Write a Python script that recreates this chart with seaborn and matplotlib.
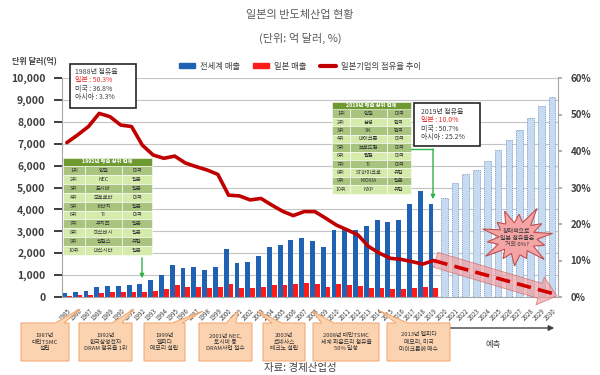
import numpy as np
import pandas as pd
import seaborn as sns
import matplotlib.pyplot as plt
from matplotlib.patches import Rectangle, Polygon, Patch
from matplotlib.lines import Line2D
from matplotlib.ticker import StrMethodFormatter, FuncFormatter

# ---- data ----
years = [str(y) for y in range(1985, 2031)]
actual_years = years[:35]      # 1985-2019
forecast_years = years[35:]    # 2020-2030 (예측)

world_sales = [200, 220, 280, 450, 500, 500, 550, 600, 770, 1000,
               1440, 1320, 1370, 1250, 1350, 2200, 1550, 1620, 1850, 2300,
               2380, 2620, 2710, 2560, 2290, 3080, 3120, 3040, 3240, 3500,
               3430, 3500, 4250, 4820, 4250]
japan_sales = [60, 75, 110, 200, 215, 215, 230, 230, 275, 365,
               530, 460, 470, 425, 440, 605, 425, 410, 470, 560,
               535, 580, 625, 595, 475, 580, 535, 490, 410, 430,
               350, 350, 400, 445, 410]
forecast_sales = [4530, 5190, 5600, 5800, 6190, 6720, 7180, 7640, 8160, 8700, 9130]

japan_share = [42.3, 44.4, 46.7, 50.3, 49.4, 47.1, 46.7, 41.6, 38.9, 38.0,
               38.6, 36.7, 35.7, 34.8, 33.6, 27.9, 27.7, 26.6, 27.0, 25.2,
               23.5, 22.3, 23.4, 23.4, 21.6, 19.7, 18.4, 17.0, 13.8, 12.0,
               10.6, 10.3, 9.7, 9.0, 10.0]
trend_years = ["2019", "2030"]
trend_share = [10.0, 1.0]

series_names = ["전세계 매출", "일본 매출", "일본기업의 점유율 추이"]

table_1992 = [("1위", "인텔", "미국"), ("2위", "NEC", "일본"), ("3위", "도시바", "일본"),
              ("4위", "모토로라", "미국"), ("5위", "히타치", "일본"), ("6위", "TI", "미국"),
              ("7위", "후지쯔", "일본"), ("8위", "미쓰비시", "일본"), ("9위", "필립스", "유럽"),
              ("10위", "마쓰시타", "일본")]
table_2019 = [("1위", "인텔", "미국"), ("2위", "삼성", "한국"), ("3위", "SK", "한국"),
              ("4위", "마이크론", "미국"), ("5위", "브로드컴", "미국"), ("6위", "퀄컴", "미국"),
              ("7위", "TI", "미국"), ("8위", "ST마이크로", "유럽"), ("9위", "KIOXIA", "일본"),
              ("10위", "NXP", "유럽")]

events = ["1987년\n대만TSMC\n설립",
          "1992년\n한국삼성전자\nDRAM 점유율 1위",
          "1999년\n엘피다\n메모리 설립",
          "2001년 NEC,\n토시바 등\nDRAM사업 철수",
          "2003년\n르네사스\n테크노 설립",
          "2008년 대만TSMC\n세계 파운드리 점유율\n50% 달성",
          "2013년 엘피다\n메모리, 미국\n마이크론에 매수"]

BLUE = "#1f62b4"
RED = "#ff1a1a"
DARKRED = "#c00000"
GRAY = "#404040"

sns.set_theme(style="white")
plt.rcParams['font.family'] = ['Noto Sans CJK KR', 'DejaVu Sans']

W, H = 600, 375
fig = plt.figure(figsize=(6, 3.75), dpi=100)


def fx(x):
    return x / W


def fy(y):
    return 1 - y / H


ax = fig.add_axes([fx(62), fy(297), 496 / W, 219 / H])

# bars
df = pd.DataFrame({
    "year": actual_years * 2,
    "sales": world_sales + japan_sales,
    "series": [series_names[0]] * 35 + [series_names[1]] * 35,
})
sns.barplot(data=df, x="year", y="sales", hue="series", order=years,
            hue_order=series_names[:2], palette=[BLUE, RED], saturation=1,
            width=0.9, edgecolor="none", linewidth=0, legend=False, ax=ax)
sns.barplot(x=forecast_years, y=forecast_sales, order=years, color="#c6daf1",
            saturation=1, width=0.62, edgecolor="#7d9cc6", linewidth=0.6,
            linestyle=(0, (1.5, 1)), ax=ax)

ax.set_ylim(0, 10000)
ax.set_yticks(range(0, 10001, 1000))
ax.yaxis.set_major_formatter(StrMethodFormatter("{x:,.0f}"))
ax.yaxis.grid(True, color="#c4c4c4", lw=0.8)
ax.set_axisbelow(True)
ax.set_xlabel("")
ax.set_ylabel("")
ax.tick_params(axis="y", labelsize=7.5, labelcolor=GRAY, pad=6)
for t in ax.get_yticklabels():
    t.set_fontweight("bold")
ax.tick_params(axis="x", labelsize=4.5, labelcolor=GRAY, labelrotation=45, pad=1)
for t in ax.get_xticklabels():
    t.set_ha("right")
    t.set_rotation_mode("anchor")
for s in ["top", "right"]:
    ax.spines[s].set_visible(False)
for s in ["left", "bottom"]:
    ax.spines[s].set_color("#a6a6a6")
    ax.spines[s].set_linewidth(0.8)

# share line on right axis
ax2 = ax.twinx()
sns.pointplot(x=actual_years, y=japan_share, order=years, color=DARKRED,
              markers="", linewidth=2.6, errorbar=None, ax=ax2)

# pink projection arrow + dashed trend (2019 -> 2030)
trend_pos = [years.index(y) for y in trend_years]
ax2.annotate("", xy=(trend_pos[1] + 0.45, trend_share[1] - 0.7), xytext=(trend_pos[0] + 0.2, trend_share[0] + 0.2),
             arrowprops=dict(arrowstyle="simple,head_length=0.9,head_width=1.5,tail_width=0.8",
                             fc="#f29a9a", ec="#d25a5a", alpha=0.65, lw=0.6,
                             mutation_scale=14, shrinkA=0, shrinkB=0),
             annotation_clip=False, zorder=1)
ax2.plot(trend_pos, trend_share, color="#d40000", lw=2.6, dashes=[4, 2], zorder=4)

ax2.set_ylim(0, 60)
ax2.set_yticks(range(0, 61, 10))
ax2.yaxis.set_major_formatter(FuncFormatter(lambda v, p: f"{v:.0f}%"))
ax2.tick_params(axis="y", right=True, length=3, color="#a6a6a6",
                labelsize=7, labelcolor=GRAY, pad=6)
for t in ax2.get_yticklabels():
    t.set_fontweight("bold")
ax2.set_ylabel("")
for s in ["top", "left", "bottom"]:
    ax2.spines[s].set_visible(False)
ax2.spines["right"].set_color("#a6a6a6")
ax2.spines["right"].set_linewidth(0.8)
ax2.grid(False)
ax.set_xlim(-0.45, 45.55)

# titles / labels
fig.text(0.5, fy(15), "일본의 반도체산업 현황", ha="center", va="center", fontsize=8, color="#595959")
fig.text(0.5, fy(38), "(단위: 억 달러, %)", ha="center", va="center", fontsize=8, color="#595959")
fig.text(fx(12), fy(62), "단위 달러(억)", ha="left", va="center", fontsize=5.8,
         fontweight="bold", color=GRAY)
fig.text(0.5, fy(368), "자료: 경제산업성", ha="center", va="center", fontsize=7.5, color=GRAY)

handles = [Patch(color=BLUE), Patch(color=RED), Line2D([], [], color=DARKRED, lw=3)]
fig.legend(handles, series_names, loc="center", bbox_to_anchor=(fx(300), fy(66)),
           ncol=3, frameon=False, fontsize=6, handlelength=1.9, handleheight=0.5,
           handletextpad=0.6, columnspacing=1.6, labelcolor=GRAY)


# info boxes
def info_box(x0, y0, x1, y1, lines, tx, ty, step):
    fig.patches.append(Rectangle((fx(x0), fy(y1)), fx(x1 - x0), (y1 - y0) / H,
                                 transform=fig.transFigure, fc="white", ec="#262626", lw=1.2))
    for i, ln in enumerate(lines):
        c = "#e83030" if ln.startswith("일본") else GRAY
        fig.text(fx(tx), fy(ty + i * step), ln, fontsize=5, color=c, va="center", ha="left")


info_box(70, 64, 136, 108, ["1988년 점유율", "일본 : 50.3%", "미국 : 36.8%", "아시아 : 3.3%"], 75, 72, 8.4)
info_box(414, 103, 480, 146, ["2019년 점유율", "일본 : 10.0%", "미국 : 50.7%", "아시아 : 25.2%"], 421, 112, 8.5)


# ranking tables
def rank_table(cols, y0, head_h, row_h, title, rows):
    fig.patches.append(Rectangle((fx(cols[0]), fy(y0 + head_h)), fx(cols[-1] - cols[0]), head_h / H,
                                 transform=fig.transFigure, fc="#6f9a32", ec="white", lw=0.4))
    fig.text(fx((cols[0] + cols[-1]) / 2), fy(y0 + head_h / 2), title, fontsize=3.8,
             color="white", ha="center", va="center", fontweight="bold")
    for r, row in enumerate(rows):
        top = y0 + head_h + r * row_h
        fc = "#a9c47f" if r % 2 == 0 else "#d5ebab"
        for c in range(3):
            fig.patches.append(Rectangle((fx(cols[c]), fy(top + row_h)), fx(cols[c + 1] - cols[c]),
                                         row_h / H, transform=fig.transFigure, fc=fc,
                                         ec="white", lw=0.4))
            fig.text(fx((cols[c] + cols[c + 1]) / 2), fy(top + row_h / 2), row[c], fontsize=3.8,
                     color="#333333", ha="center", va="center")


rank_table([63, 85, 122, 152], 158, 8, 8.9, "1992년 매출 상위 업체", table_1992)
rank_table([332, 350, 387, 411], 102, 7.5, 8.4, "2019년 매출 상위 업체", table_2019)

green = "#2db34a"
ax.annotate("", xy=(fx(142), fy(281)), xytext=(fx(142), fy(255)), xycoords="figure fraction",
            arrowprops=dict(arrowstyle="-|>", color=green, lw=1, mutation_scale=6),
            annotation_clip=False)
fig.lines.append(Line2D([fx(411), fx(433)], [fy(149), fy(149)], transform=fig.transFigure,
                        color=green, lw=1))
ax.annotate("", xy=(fx(433), fy(202)), xytext=(fx(433), fy(149)), xycoords="figure fraction",
            arrowprops=dict(arrowstyle="-|>", color=green, lw=1, mutation_scale=6, shrinkA=0),
            annotation_clip=False)

# starburst
n = 28
radii = [36, 18, 30, 20, 40, 19, 28, 18, 34, 20, 27, 19, 36, 18,
         30, 20, 38, 18, 28, 19, 33, 20, 26, 18, 37, 19, 29, 20]
ang = np.linspace(0, 2 * np.pi, n, endpoint=False) + 0.15
cx, cy = 517, 238
pts = [(fx(cx + r * np.cos(a)), fy(cy - 0.85 * r * np.sin(a))) for r, a in zip(radii, ang)]
fig.patches.append(Polygon(pts, closed=True, transform=fig.transFigure,
                           fc="#f4a4a4", ec="#c0504d", lw=0.8))
fig.text(fx(cx), fy(cy), "장래적으로\n일본 점유율은\n거의 0%?", fontsize=4.3, color="#333333",
         ha="center", va="center", linespacing=1.3)

# 예측 arrow
ax.annotate("", xy=(fx(557), fy(328)), xytext=(fx(440), fy(328)), xycoords="figure fraction",
            arrowprops=dict(arrowstyle="-|>", color=GRAY, lw=1, mutation_scale=8),
            annotation_clip=False)
fig.text(fx(493), fy(344), "예측", fontsize=6, color=GRAY, ha="center", va="center")

# event call-outs
boxes = [(21, 69, 55, 64, 80, 309), (79, 132, 112, 122, 134, 309), (144, 185, 172, 182, 203, 311),
         (199, 252, 226, 236, 238, 311), (263, 305, 272, 282, 257, 311),
         (313, 379, 322, 334, 312, 311), (387, 450, 396, 408, 380, 311)]
for (x0, x1, ta, tb, tipx, tipy), label in zip(boxes, events):
    y0, y1 = 323, 361
    poly = [(x0, y0), (ta, y0), (tipx, tipy), (tb, y0), (x1, y0), (x1, y1), (x0, y1)]
    fig.patches.append(Polygon([(fx(a), fy(b)) for a, b in poly], closed=True,
                               transform=fig.transFigure, fc="#fbd3b0", ec="#f3a468", lw=0.7))
    fig.text(fx((x0 + x1) / 2), fy((y0 + y1) / 2), label, fontsize=4.2, color="#333333",
             ha="center", va="center", linespacing=1.35)

fig.savefig("out.png", dpi=100)
